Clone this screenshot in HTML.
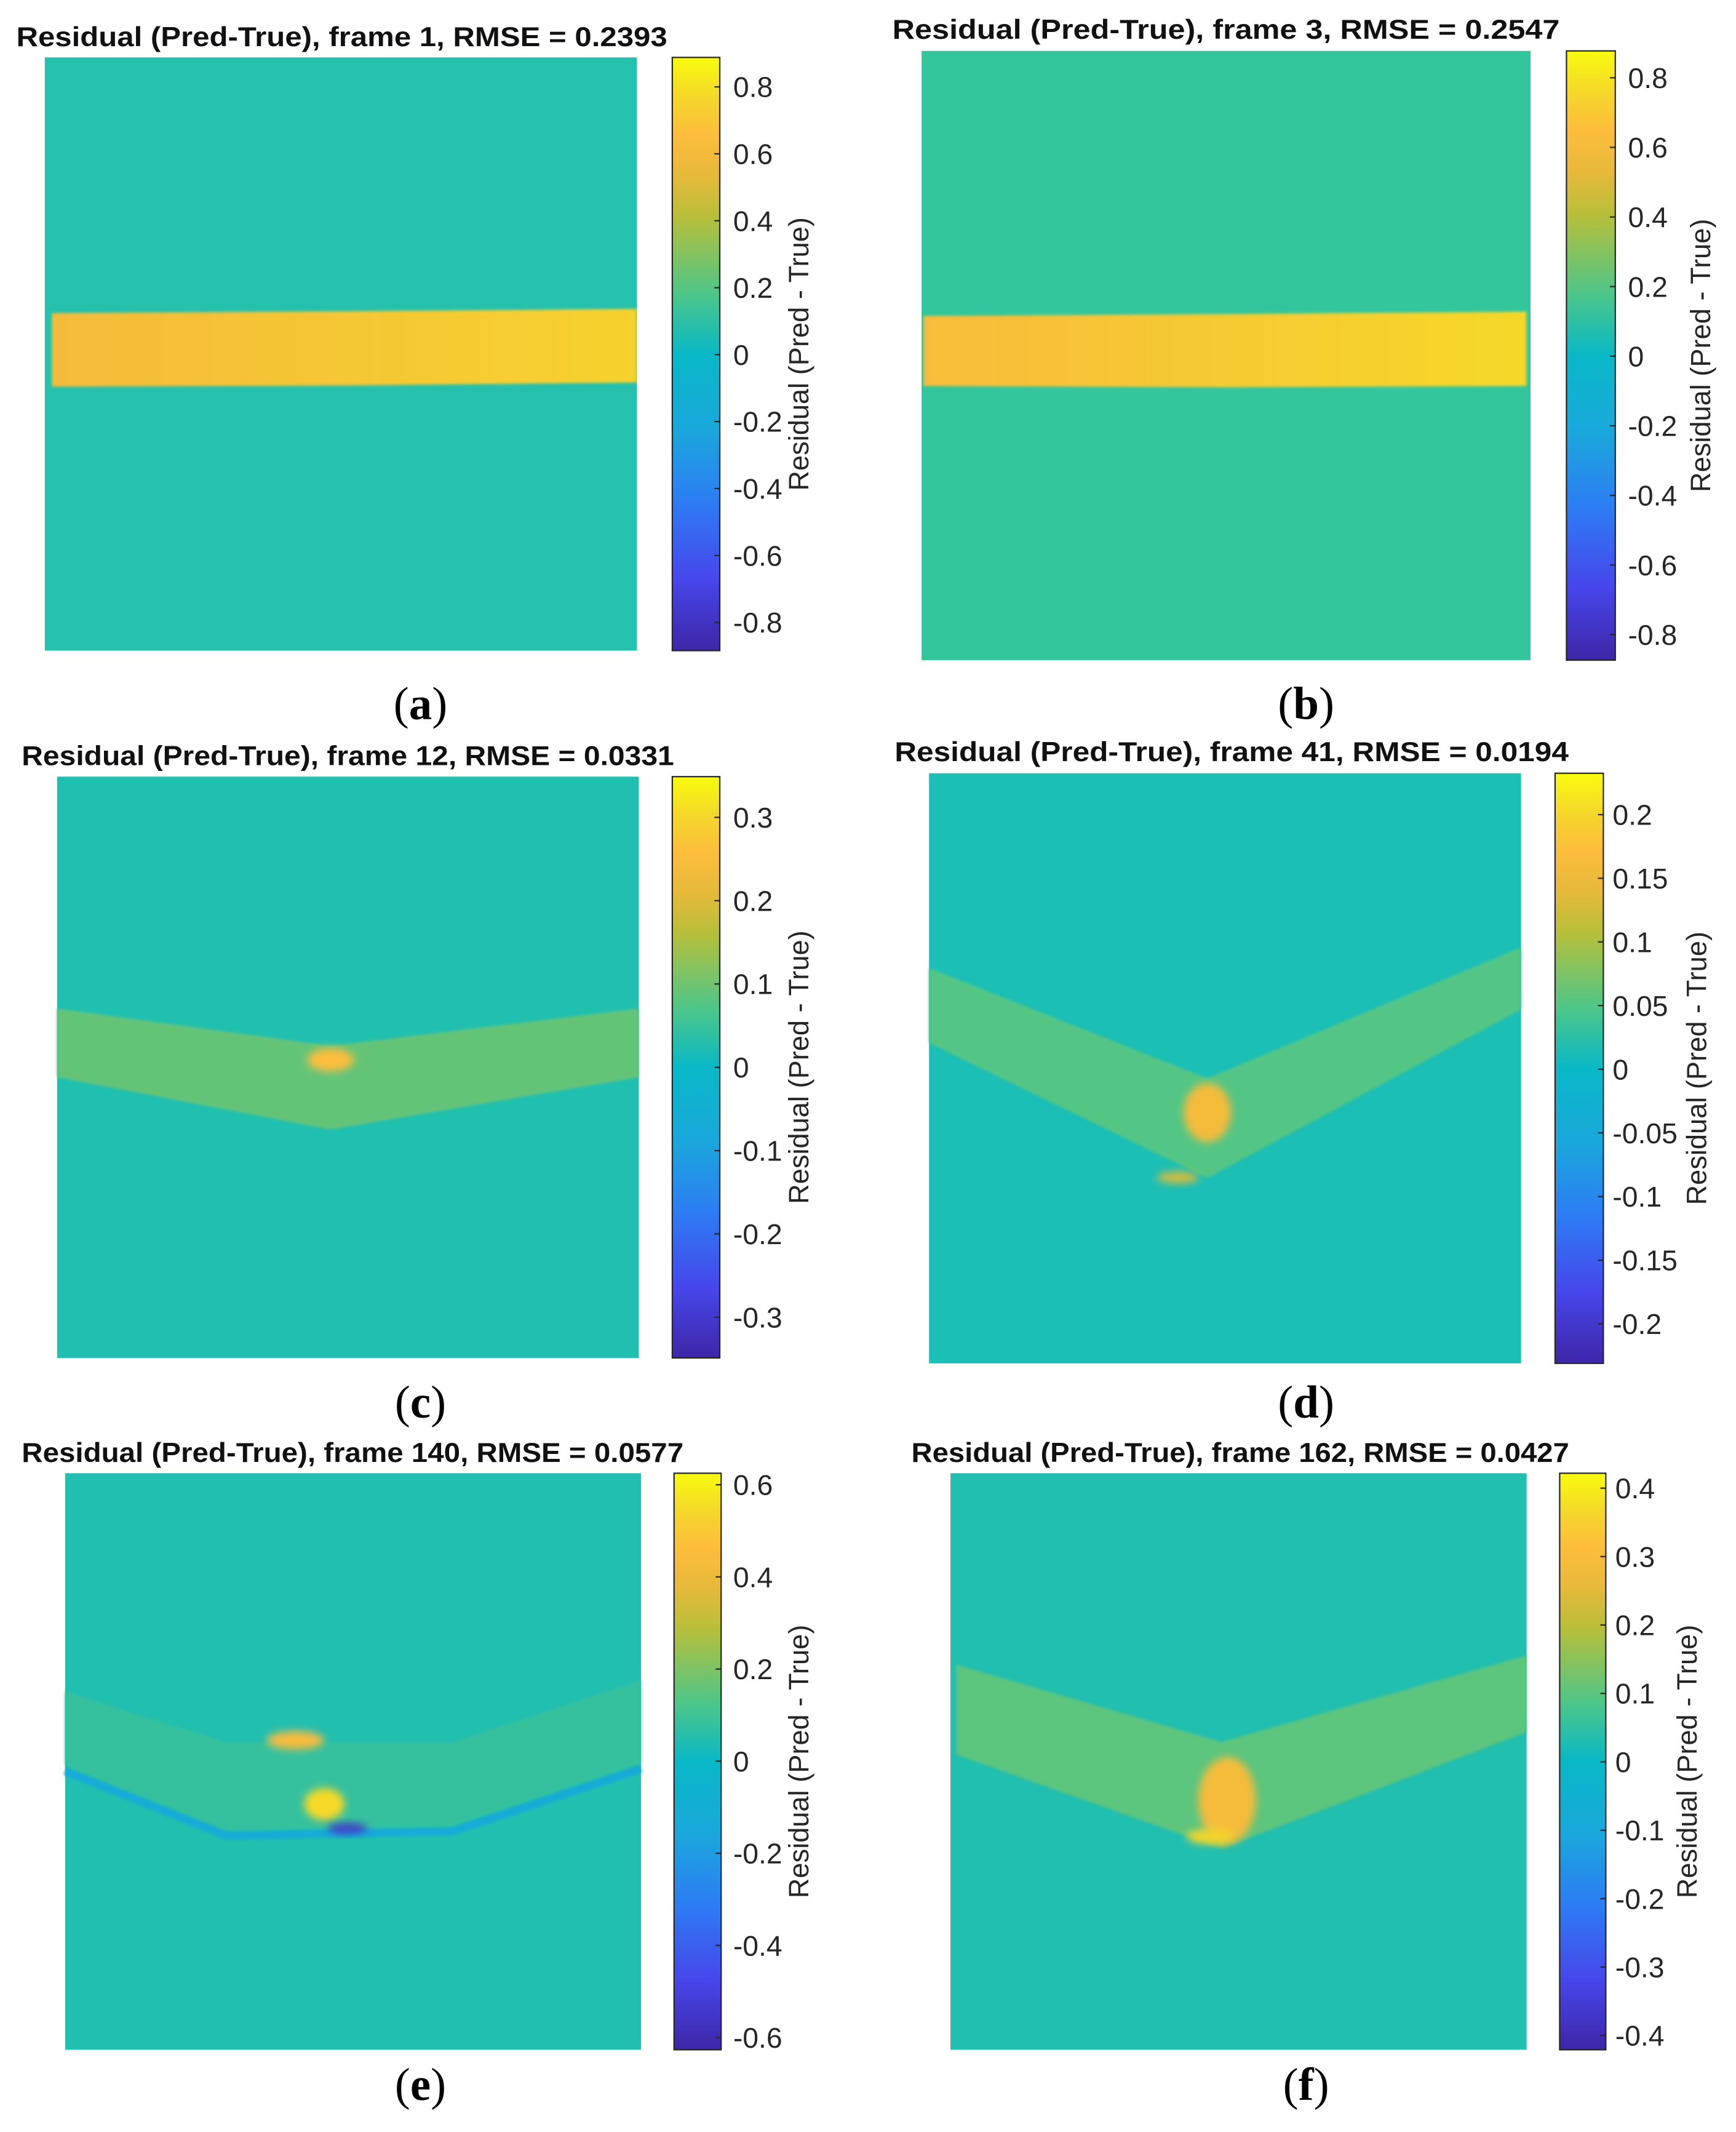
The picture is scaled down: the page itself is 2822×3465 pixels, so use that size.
<!DOCTYPE html>
<html><head><meta charset="utf-8">
<style>
html,body{margin:0;padding:0;background:#fff;}
svg{display:block;}
text{font-family:"Liberation Sans",sans-serif;}
</style></head>
<body>
<svg id="fig" xmlns="http://www.w3.org/2000/svg" width="2822" height="3465" viewBox="0 0 1280 1571.6"></svg>
<script>
// ---- data ----
const panelLetters = ["a","b","c","d","e","f"];
const frames = [1, 3, 12, 41, 140, 162];
const rmse = ["0.2393","0.2547","0.0331","0.0194","0.0577","0.0427"];
const ranges = [0.88, 0.876, 0.35, 0.232, 0.63, 0.42];
const ticksA = [0.8,0.6,0.4,0.2,0,-0.2,-0.4,-0.6,-0.8];
const ticksB = [0.8,0.6,0.4,0.2,0,-0.2,-0.4,-0.6,-0.8];
const ticksC = [0.3,0.2,0.1,0,-0.1,-0.2,-0.3];
const ticksD = [0.2,0.15,0.1,0.05,0,-0.05,-0.1,-0.15,-0.2];
const ticksE = [0.6,0.4,0.2,0,-0.2,-0.4,-0.6];
const ticksF = [0.4,0.3,0.2,0.1,0,-0.1,-0.2,-0.3,-0.4];
const tickSets = [ticksA,ticksB,ticksC,ticksD,ticksE,ticksF];
// band outlines: x fractions and top/bottom y fractions across heatmap
const bandXs = [[0.012,0.5,1],[0.003,0.5,0.993],[0,0.47,1],[0,0.47,1],[0,0.28,0.67,1],[0.01,0.47,1]];
const bandTop = [[0.431,0.428,0.424],[0.435,0.432,0.428],[0.399,0.463,0.399],[0.33,0.517,0.295],[0.378,0.467,0.467,0.359],[0.332,0.466,0.316]];
const bandBot = [[0.555,0.553,0.548],[0.55,0.552,0.55],[0.517,0.607,0.517],[0.457,0.686,0.4],[0.507,0.619,0.612,0.503],[0.488,0.651,0.449]];
const bandVals = [0.64, 0.66, 0.09, 0.05, 0.085, 0.1];
// hotspots
const hotPanel = [2,3,3,4,4,4,5,5];
const hotX = [0.47,0.47,0.42,0.40,0.45,0.49,0.48,0.45];
const hotY = [0.487,0.575,0.685,0.463,0.574,0.616,0.567,0.63];
const hotRx = [0.04,0.04,0.035,0.05,0.035,0.035,0.05,0.04];
const hotRy = [0.02,0.05,0.01,0.016,0.028,0.009,0.075,0.013];
const hotVal = [0.26,0.16,0.13,0.45,0.55,-0.55,0.29,0.36];
// ---- layout (style) ----
const L = [
 {hx:33,hy:42.3,hw:436.5,hh:437.3,cx:495.7,cw:35,cy:42.3,ch:437.3,t0:64,t1:458.8,tx:540.6,lx:596,ttx:12,tty:34,ttw:480,px:310,py:530,bg:"#26C1AC"},
 {hx:679.5,hy:37.5,hw:449,hh:449.1,cx:1155,cw:36,cy:37.5,ch:449.1,t0:57.3,t1:467.8,tx:1200.4,lx:1261,ttx:658,tty:28.5,ttw:492,px:963,py:530,bg:"#33C69C"},
 {hx:42.1,hy:572.5,hw:428.9,hh:428.5,cx:495.7,cw:35,cy:572.5,ch:428.5,t0:602.5,t1:971,tx:540.6,lx:596,ttx:16,tty:564,ttw:481,px:310,py:1045,bg:"#20C0B0"},
 {hx:685,hy:570,hw:436.5,hh:435,cx:1146.6,cw:35.6,cy:570,ch:435,t0:600.5,t1:975.9,tx:1189,lx:1258,ttx:659.6,tty:561,ttw:497,px:963,py:1045,bg:"#1BBFB5"},
 {hx:48,hy:1086,hw:424.6,hh:425,cx:497,cw:34.7,cy:1086,ch:425,t0:1094.5,t1:1502,tx:540.6,lx:596,ttx:16,tty:1077.6,ttw:488,px:310,py:1548,bg:"#21BFB0"},
 {hx:700.8,hy:1086,hw:424.8,hh:425,cx:1150,cw:34,cy:1086,ch:425,t0:1097,t1:1500.5,tx:1191,lx:1251,ttx:672,tty:1077.6,ttw:485,px:963,py:1548,bg:"#21BFAF"}
];
const pStops = [0,0.12,0.25,0.375,0.5,0.6,0.73,0.8,0.87,0.93,1];
const parula = ["#3E26A8","#4746EB","#2D7CF4","#1AA8DC","#08B8C6","#4CC68A","#B7BF3A","#E7B93A","#FDBD3C","#F5D62B","#F9FB0E"];
function hex2rgb(h){return [1,3,5].map(i=>parseInt(h.substr(i,2),16));}
function cmap(t){t=Math.max(0,Math.min(1,t));let i=0;while(i<pStops.length-2&&t>pStops[i+1])i++;
 const f=(t-pStops[i])/(pStops[i+1]-pStops[i]);
 const a=hex2rgb(parula[i]),b=hex2rgb(parula[i+1]);return "rgb("+a.map((v,k)=>Math.round(v+(b[k]-v)*f)).join(",")+")";}
const NS="http://www.w3.org/2000/svg";
const svg=document.getElementById("fig");
function mk(tag,attrs,parent){const e=document.createElementNS(NS,tag);for(const k in attrs)e.setAttribute(k,attrs[k]);(parent||svg).appendChild(e);return e;}
const defs=mk("defs",{});
const gr=mk("linearGradient",{id:"parula",x1:"0",y1:"1",x2:"0",y2:"0"},defs);
parula.forEach((c,i)=>mk("stop",{offset:pStops[i],"stop-color":c},gr));
const bl=mk("filter",{id:"soft",x:"-50%",y:"-50%",width:"200%",height:"200%"},defs);
mk("feGaussianBlur",{stdDeviation:"3"},bl);
const bl2=mk("filter",{id:"edge"},defs);
mk("feGaussianBlur",{stdDeviation:"1"},bl2);

for(let p=0;p<6;p++){
 const g=L[p], R=ranges[p];
 const xS=f=>g.hx+f*g.hw, yS=f=>g.hy+f*g.hh;
 const col=v=>cmap((v+R)/(2*R));
 const grp=mk("g",{});
 
 
 const t=mk("text",{x:g.ttx,y:g.tty,"font-size":"20","font-weight":"bold",fill:"#111",textLength:g.ttw,lengthAdjust:"spacingAndGlyphs"},grp);
 t.textContent="Residual (Pred-True), frame "+frames[p]+", RMSE = "+rmse[p];
 
 
 const bg=mk("rect",{x:g.hx,y:g.hy,width:g.hw,height:g.hh,fill:g.bg},grp);
 
 
 const xs=bandXs[p];
 let pts=xs.map((x,i)=>xS(x)+","+yS(bandTop[p][i]));
 pts=pts.concat(xs.slice().reverse().map((x,i)=>xS(x)+","+yS(bandBot[p][xs.length-1-i])));
 let fill=col(bandVals[p]);
 if(p<2){
  const lg=mk("linearGradient",{id:"bg"+p,x1:"0",y1:"0",x2:"1",y2:"0"},defs);
  mk("stop",{offset:"0","stop-color":col(bandVals[p]-0.04)},lg);
  mk("stop",{offset:"1","stop-color":col(bandVals[p]+0.1)},lg);
  fill="url(#bg"+p+")";
 }
 if(p===4){
  const sh=xs.map((x,i)=>xS(x)+","+(yS(bandBot[p][i])+4));
  const blue=mk("polyline",{points:sh.join(" "),fill:"none",stroke:col(-0.12),"stroke-width":"6",filter:"url(#edge)"},grp);
  
  
 }
 const band=mk("polygon",{points:pts.join(" "),fill:fill,filter:"url(#edge)"},grp);
 
 
 for(let h=0;h<hotPanel.length;h++){
  if(hotPanel[h]!==p)continue;
  const e=mk("ellipse",{cx:xS(hotX[h]),cy:yS(hotY[h]),rx:hotRx[h]*g.hw,ry:hotRy[h]*g.hh,fill:col(hotVal[h]),filter:"url(#soft)"},grp);
  
  
 }
 const cb=mk("rect",{x:g.cx,y:g.cy,width:g.cw,height:g.ch,fill:"url(#parula)",stroke:"#262626","stroke-width":"1"},grp);
 
 
 const tk=tickSets[p], top=tk[0], bot=tk[tk.length-1];
 tk.forEach(v=>{
  const y=g.t0+(top-v)/(top-bot)*(g.t1-g.t0);
  const ln=mk("line",{x1:g.cx+g.cw-4,x2:g.cx+g.cw,y1:y,y2:y,stroke:"#262626","stroke-width":"1"},grp);
  
  
  const tl=mk("text",{x:g.tx,y:y+7.5,"font-size":"21",fill:"#262626"},grp);
  tl.textContent=String(v);
  
  
 });
 const cy=g.cy+g.ch/2;
 const lab=mk("text",{x:g.lx,y:cy,"font-size":"20.5",fill:"#262626","text-anchor":"middle",transform:"rotate(-90 "+g.lx+" "+cy+")"},grp);
 lab.textContent="Residual (Pred - True)";
 
 
 const pl=mk("text",{x:g.px,y:g.py,"font-size":"34","text-anchor":"middle",fill:"#000",style:"font-family:'Liberation Serif',serif"},grp);
 pl.innerHTML='(<tspan font-weight="bold">'+panelLetters[p]+'</tspan>)';
 
 
}
</script>
</body></html>
